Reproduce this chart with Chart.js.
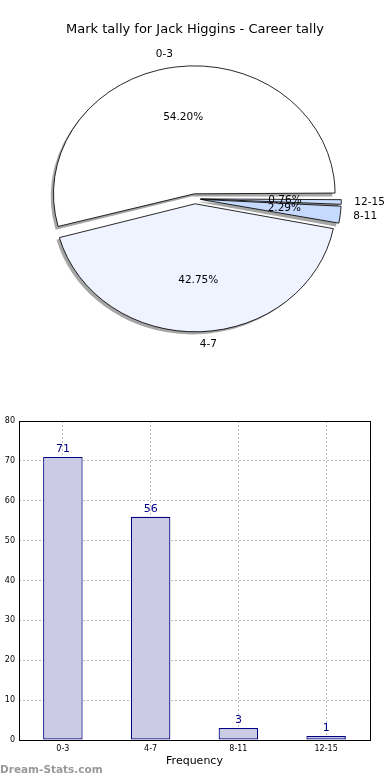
<!DOCTYPE html>
<html>
<head>
<meta charset="utf-8">
<title>Mark tally for Jack Higgins</title>
<script src="https://cdn.jsdelivr.net/npm/chart.js@4.4.1/dist/chart.umd.min.js"></script>
<style>
  body { margin: 0; background: #fff; }
  #pieBox { position: relative; width: 390px; height: 400px; }
  #barBox { position: relative; width: 390px; height: 380px; }
</style>
</head>
<body>
<div id="pieBox"><canvas id="pieChart"></canvas></div>
<div id="barBox"><canvas id="barChart"></canvas></div>
<script>
// data
const categories = ["0-3", "4-7", "8-11", "12-15"];
const tally = [71, 56, 3, 1];
const yTicks = [0, 10, 20, 30, 40, 50, 60, 70, 80];
const sliceColors = ["#ffffff", "#eef3ff", "#c6dafe", "#c9ddff"];

const total = tally.reduce((a, b) => a + b, 0);
const percents = tally.map(v => (v / total * 100).toFixed(2) + "%");

Chart.defaults.font.family = "'DejaVu Sans', sans-serif";
Chart.defaults.color = "#000";
Chart.defaults.animation = false;

// matplotlib goes counter-clockwise from 3 o'clock, Chart.js clockwise -> reverse order
const pieLabels = categories.slice().reverse();
const pieValues = tally.slice().reverse();
const pieColors = sliceColors.slice().reverse();
const piePercents = percents.slice().reverse();

const X_STRETCH = 1.1;  // the reference pie is an ellipse

const ellipsePie = {
  id: 'ellipsePie',
  beforeDatasetsDraw(chart) {
    const ctx = chart.ctx;
    const meta = chart.getDatasetMeta(0);
    const arcs = meta.data;
    const R = meta.controller.outerRadius;
    const cx = arcs[0].x, cy = arcs[0].y;
    ctx.save();
    ctx.translate(cx, cy);
    ctx.scale(X_STRETCH, 1);
    ctx.translate(-cx, -cy);
    // Chart.js grows exploded arcs a bit, undo that so all wedges share one radius
    arcs.forEach(a => {
      const shift = a.options.offset / 4;
      const circ = a.endAngle - a.startAngle;
      a.outerRadius = R - shift * (1 - Math.sin(Math.min(Math.PI, circ)));
    });
    // drop shadows
    ctx.fillStyle = 'rgba(77,77,77,0.5)';
    arcs.forEach(a => {
      const mid = (a.startAngle + a.endAngle) / 2;
      const shift = a.options.offset / 4;
      const sx = a.x + Math.cos(mid) * shift - 2.5;
      const sy = a.y + Math.sin(mid) * shift + 2.6;
      ctx.beginPath();
      ctx.moveTo(sx, sy);
      ctx.arc(sx, sy, R, a.startAngle, a.endAngle);
      ctx.closePath();
      ctx.fill();
    });
  },
  afterDatasetsDraw(chart) {
    chart.ctx.restore();
  },
  afterDraw(chart) {
    const ctx = chart.ctx;
    const meta = chart.getDatasetMeta(0);
    const R = meta.controller.outerRadius;
    ctx.save();
    ctx.fillStyle = '#000';
    ctx.font = "10.5px 'DejaVu Sans'";
    ctx.textBaseline = 'middle';
    meta.data.forEach((a, i) => {
      const mid = (a.startAngle + a.endAngle) / 2;
      const shift = a.options.offset / 4;
      const at = k => [a.x + X_STRETCH * Math.cos(mid) * (shift + k * R), a.y + Math.sin(mid) * (shift + k * R)];
      let [px, py] = at(0.6);
      ctx.textAlign = 'center';
      ctx.fillText(piePercents[i], px, py);
      [px, py] = at(1.1);
      ctx.textAlign = Math.cos(mid) > 0 ? 'left' : 'right';
      ctx.fillText(pieLabels[i], px - 1, py);
    });
    ctx.restore();
  }
};

new Chart(document.getElementById('pieChart'), {
  type: 'pie',
  data: {
    labels: pieLabels,
    datasets: [{
      data: pieValues,
      backgroundColor: pieColors,
      borderColor: '#000',
      borderWidth: 0.8,
      offset: 20,
      radius: 128
    }]
  },
  options: {
    responsive: true,
    maintainAspectRatio: false,
    rotation: 90,
    layout: { padding: { bottom: 50 } },
    plugins: {
      legend: { display: false },
      tooltip: { enabled: false },
      title: {
        display: true,
        text: 'Mark tally for Jack Higgins - Career tally',
        font: { size: 13, weight: 'normal' },
        color: '#000',
        padding: { top: 22, bottom: 10 }
      }
    }
  },
  plugins: [ellipsePie]
});

const barExtras = {
  id: 'barExtras',
  afterDatasetsDraw(chart) {
    const ctx = chart.ctx;
    const meta = chart.getDatasetMeta(0);
    ctx.save();
    ctx.fillStyle = '#00008b';
    ctx.font = "11px 'DejaVu Sans'";
    ctx.textAlign = 'center';
    ctx.textBaseline = 'bottom';
    meta.data.forEach((bar, i) => {
      ctx.fillText(String(tally[i]), bar.x, bar.y - 2);
    });
    ctx.restore();
  },
  afterDraw(chart) {
    const ctx = chart.ctx;
    const a = chart.chartArea;
    ctx.save();
    ctx.strokeStyle = '#000';
    ctx.lineWidth = 1;
    ctx.strokeRect(Math.round(a.left) + 0.5, Math.round(a.top) + 0.5,
      Math.round(a.right - a.left), Math.round(a.bottom - a.top));
    ctx.fillStyle = '#999';
    ctx.font = "bold 10.5px 'DejaVu Sans'";
    ctx.textAlign = 'left';
    ctx.textBaseline = 'middle';
    ctx.fillText('Dream-Stats.com', 0, chart.height - 10);
    ctx.restore();
  }
};

new Chart(document.getElementById('barChart'), {
  type: 'bar',
  data: {
    labels: categories,
    datasets: [{
      data: tally,
      backgroundColor: '#cbcbe6',
      borderColor: '#000080',
      borderWidth: 1.2,
      borderSkipped: false,
      barPercentage: 0.45,
      categoryPercentage: 1
    }]
  },
  options: {
    responsive: true,
    maintainAspectRatio: false,
    layout: { padding: { top: 21, right: 20, left: 0, bottom: 0 } },
    plugins: {
      legend: { display: false },
      tooltip: { enabled: false }
    },
    scales: {
      x: {
        z: 1,
        grid: { offset: false, color: '#bdbdbd', drawTicks: false },
        border: { display: false, dash: [2, 2] },
        ticks: { font: { size: 8 }, padding: 4, maxRotation: 0 },
        title: { display: true, text: 'Frequency', font: { size: 11 }, padding: { top: 0, bottom: 12 } },
        afterFit(scale) { scale.height = 40; }
      },
      y: {
        z: 1,
        min: 0,
        max: yTicks[yTicks.length - 1],
        afterBuildTicks(scale) { scale.ticks = yTicks.map(v => ({ value: v })); },
        grid: { color: '#bdbdbd', drawTicks: false },
        border: { display: false, dash: [2, 2] },
        ticks: { font: { size: 8 }, padding: 4 },
        afterFit(scale) { scale.width = 19; }
      }
    }
  },
  plugins: [barExtras]
});
</script>
</body>
</html>
